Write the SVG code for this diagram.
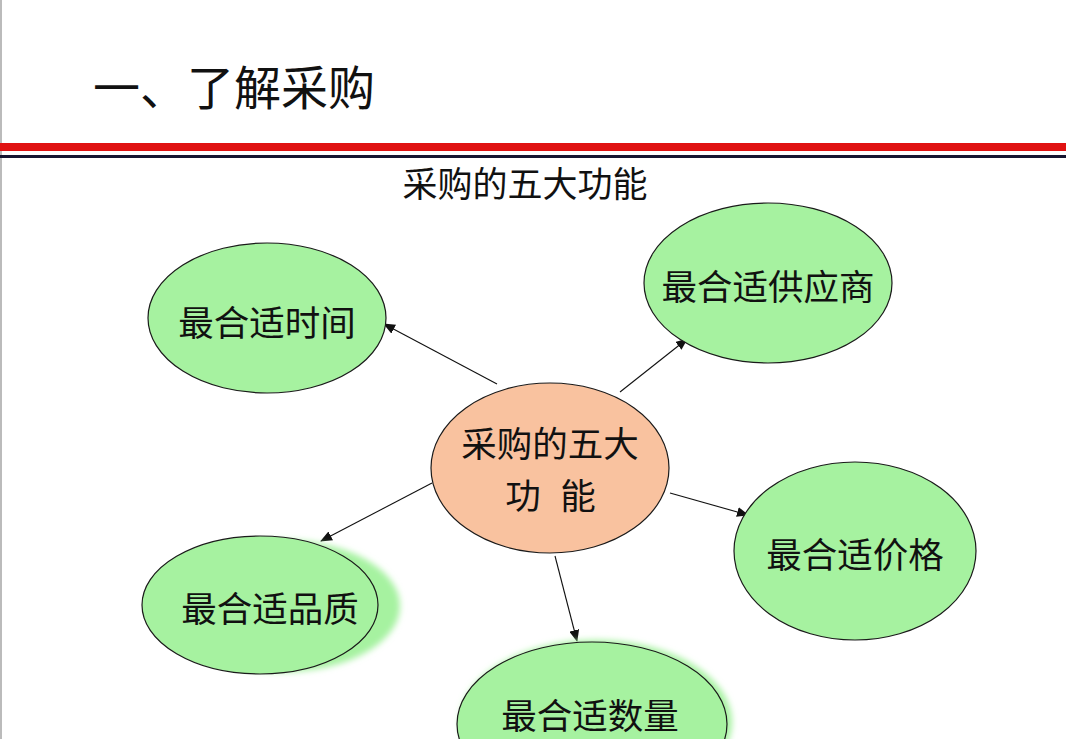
<svg xmlns="http://www.w3.org/2000/svg" width="1066" height="739" viewBox="0 0 1066 739">
<style>
.node{fill:#A6F2A0;stroke:#1a1a1a;stroke-width:1.2}
.center{fill:#F9C29F;stroke:#1a1a1a;stroke-width:1.2}
.lbl{font-family:"Noto Sans CJK SC","Noto Sans",sans-serif;font-size:35.5px;fill:#111;text-anchor:middle;dominant-baseline:central}
.head{font-family:"Noto Sans CJK SC","Noto Sans",sans-serif;fill:#111}
.conn{stroke:#111;stroke-width:1.1;fill:none;marker-end:url(#ah)}
</style>
<defs>
<marker id="ah" markerWidth="12" markerHeight="10" refX="11" refY="5" orient="auto" markerUnits="userSpaceOnUse">
<path d="M0,0 L12,5 L0,10 z" fill="#111"/>
</marker>
<filter id="blur" x="-20%" y="-20%" width="140%" height="140%"><feGaussianBlur stdDeviation="3"/></filter>
</defs>
<rect width="1066" height="739" fill="#fff"/>
<line x1="1" y1="0" x2="1" y2="739" stroke="#bbb" stroke-width="2"/>
<text class="head" x="93" y="105" font-size="47">一、了解采购</text>
<rect x="0" y="143" width="1066" height="8" fill="#E01212"/>
<rect x="0" y="155" width="1066" height="3" fill="#151530"/>
<text class="head" x="525" y="197" font-size="35" text-anchor="middle">采购的五大功能</text>
<g id="connectors">
<line class="conn" x1="497" y1="384" x2="384" y2="324"/>
<line class="conn" x1="620" y1="392" x2="687" y2="339"/>
<line class="conn" x1="670" y1="493" x2="748" y2="515"/>
<line class="conn" x1="432" y1="483" x2="321" y2="541"/>
<line class="conn" x1="555" y1="556" x2="577" y2="641"/>
</g>
<g id="center">
<ellipse class="center" cx="550" cy="468" rx="119" ry="85"/>
<text class="lbl" x="550" y="441">采购的五大</text>
<text class="lbl" x="523" y="493">功</text>
<text class="lbl" x="578" y="493">能</text>
</g>
<g id="time">
<ellipse class="node" cx="267" cy="318" rx="119" ry="75"/>
<text class="lbl" x="267" y="320">最合适时间</text>
</g>
<g id="supplier">
<ellipse class="node" cx="768" cy="283" rx="124" ry="80"/>
<text class="lbl" x="768" y="284">最合适供应商</text>
</g>
<g id="price">
<ellipse class="node" cx="855" cy="551" rx="121" ry="89"/>
<text class="lbl" x="855" y="552">最合适价格</text>
</g>
<g id="quality">
<ellipse cx="282" cy="606" rx="118" ry="66" fill="#A6F2A0" filter="url(#blur)"/>
<ellipse class="node" cx="260" cy="605" rx="118" ry="69"/>
<text class="lbl" x="270" y="606">最合适品质</text>
</g>
<g id="quantity">
<ellipse cx="596" cy="722" rx="136" ry="82" fill="#A6F2A0" filter="url(#blur)"/>
<ellipse class="node" cx="592" cy="724" rx="135" ry="82"/>
<text class="lbl" x="590" y="713">最合适数量</text>
</g>
</svg>
